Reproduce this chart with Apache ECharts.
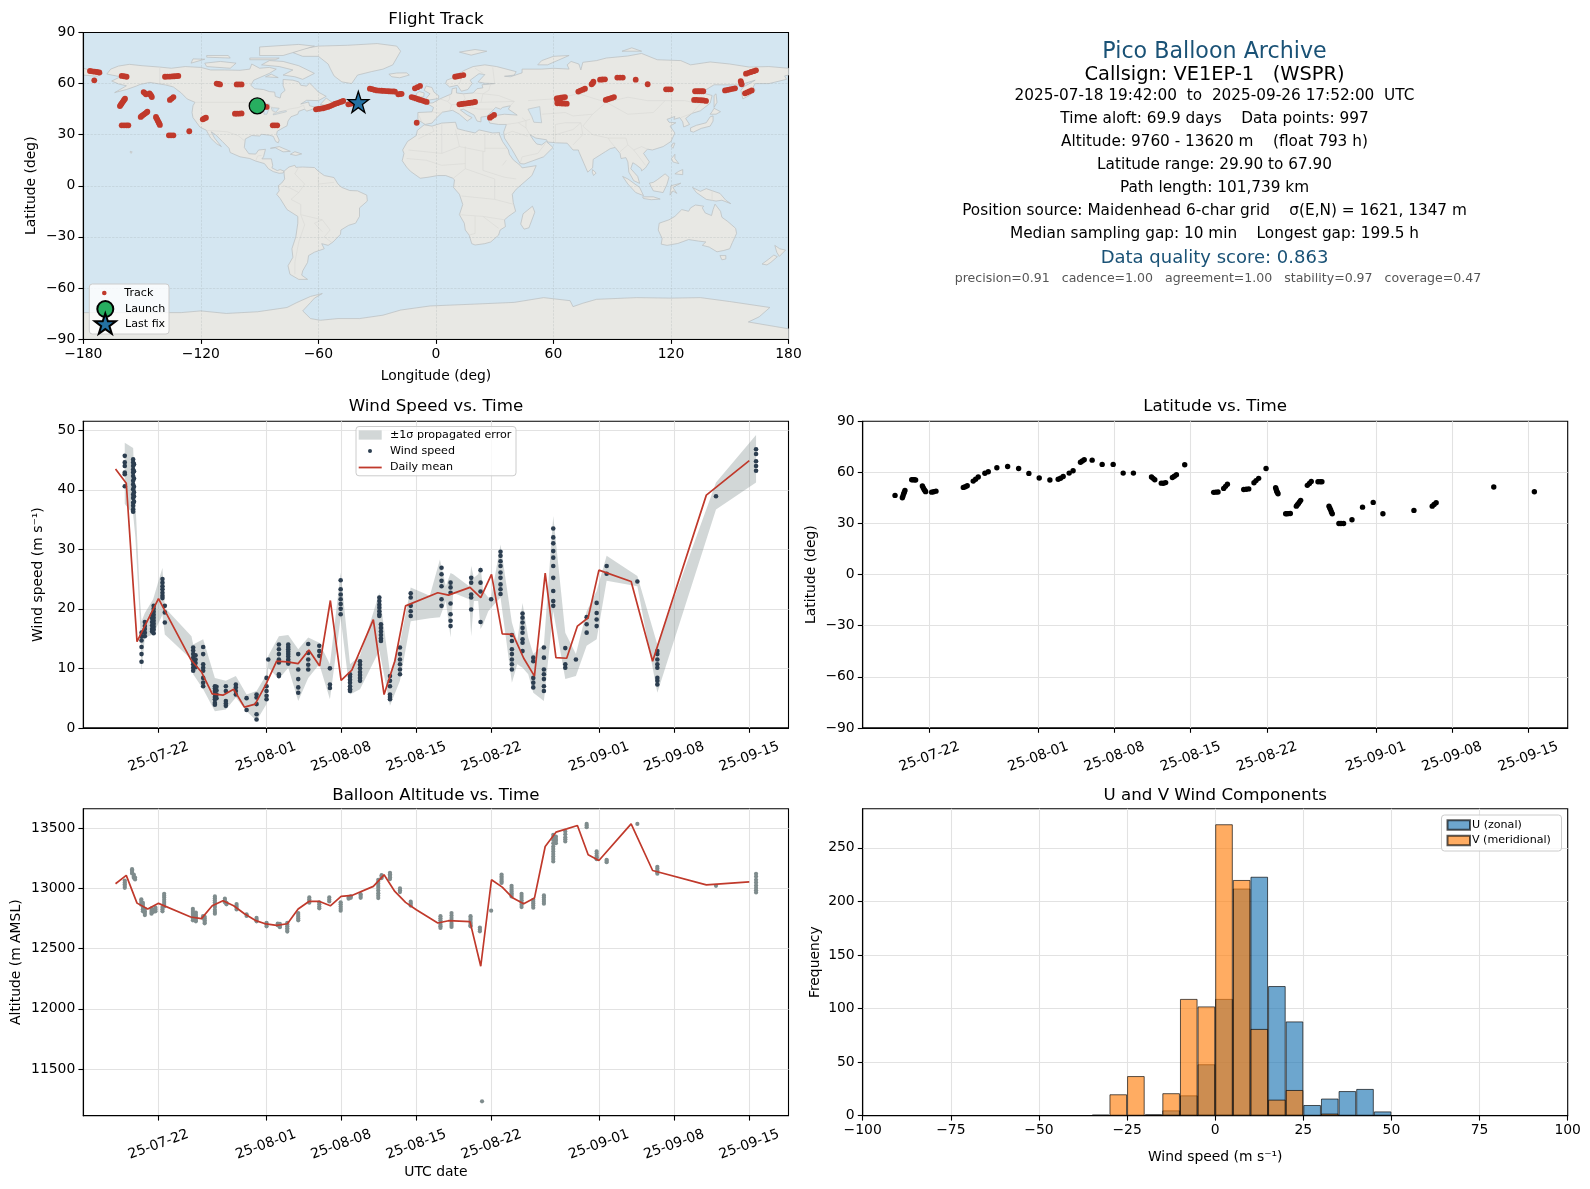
<!DOCTYPE html>
<html><head><meta charset="utf-8">
<style>html,body{margin:0;padding:0;background:#fff}#c{width:1590px;height:1189px}</style>
<script src="https://cdn.jsdelivr.net/npm/echarts@6/dist/echarts.min.js"></script>
</head><body><div id="c"></div>
<script>
// ---------- Dates: all time data is "day of July 2025" (d=32 is Aug 1) ----------
const tickDays = [22, 32, 39, 46, 53, 63, 70, 77];

// ---------- Wind speed: [day, [speeds]] ----------
const windColumns = [
 [18.86,[45.7,44.6,44,42.9,42.6,40.6]],
 [19.64,[45.1,44.6,44,43.4,42.9,42.3,41.5,40.9,40.1,39.2,38.6,37.8,37.3,36.7,36.3]],
 [19.72,[44.3,43.1,41.9,40.5,39.6,38.9,38]],
 [20.42,[14.7,13.6,12.4,11.1,15.4,16]],
 [20.73,[17.8,17.1,16.6,16,15.4]],
 [21.4,[19,18.4,17.8,17.2,16.6,16.2]],
 [21.55,[20.5,20,19.5,19,18.5,18,17.5,17,16.5,15.9]],
 [22.37,[25,24.4,23.8,23.3,22.7,22.2,21.8]],
 [22.59,[20.5,19.4,17.7]],
 [25.23,[13.5,13,12.4,11.8,11.2,10.7,10.1,9.6]],
 [25.45,[12.2,11.5,10.9,10.2]],
 [26.16,[13.6,12.4,10.7,10.1,9.6,8.4,7.6,7]],
 [27.25,[7,6.6,6.2,5.7,5.2,4.8,4.2,3.9]],
 [27.4,[6.9,6.3,5.6,5]],
 [28.27,[7,6.2,4.5,3.7,4.1]],
 [29.2,[7.3,6.8,5.6,6.2]],
 [30.2,[5,3]],
 [31.13,[5.6,5.1,4,2.3,1.4]],
 [32.06,[8.4,7,6.2,5.4,4.8]],
 [32.22,[11.5]],
 [33.21,[14,13.2,12.4,11.5,11,9,8.7]],
 [34.08,[14,13.6,13.2,12.8,12.4,12,11.5,11.1,10.8]],
 [35.01,[12.4,9.8,8.2,6.8,5.9]],
 [35.94,[14.1,12.6,11.5,10.6,9.8]],
 [36.97,[13.8,12.9,12.1]],
 [37.96,[10,7.3,6.7]],
 [38.96,[24.8,23.3,22.4,21.6,20.8,20,19.1]],
 [39.83,[9,8.6,8.1,7.6,7,6.5,6.2]],
 [40.76,[11.2,10.6,10,9.4,8.9,8.4,7.9]],
 [42.56,[21.9,21.3,20.7,20.2,19.6,19.1,18.8]],
 [42.71,[17.4,16.8,16.2,15.6,15,14.6]],
 [43.55,[8.7,7.9,7,5.6,4.8,5.2]],
 [44.48,[13.5,12.4,11.5,10.7,9.8,9]],
 [45.48,[22.6,21.9,20.5,19.6,18.8]],
 [48.35,[26.9,25.8,24.7,23.8,21.6,20.5]],
 [49.19,[24.4,23.6,22.7,20.9,19.1,18,17.1]],
 [51.11,[25.2,24.4,22.4,21.9,19.9]],
 [51.98,[26.5,24.4,22.9,17.8]],
 [52.97,[21.6]],
 [53.84,[29.6,28.9,28,27.2,26.1,25.2,24.1,23.3,22.5]],
 [54.9,[15.6,14.6,13.2,12.4,11.5,10.7,9.8]],
 [55.89,[19.2,18.5,17.7,16.8,16,14.9,14.3,12.9]],
 [56.89,[11.8,11.2,8.4,7.6,6.8]],
 [57.88,[13.5,11.8,9.8,9,8.2,7,6.2]],
 [58.75,[33.5,32,31,29.7,28.6,27.2,25.2,23,21.3,20.5]],
 [59.87,[13.4,10.7,10.1]],
 [60.86,[11.5]],
 [61.86,[18.6,17.4,16]],
 [62.79,[21,19.3,18.2,17.1]],
 [63.72,[27.2,25.9]],
 [66.58,[24.6]],
 [68.44,[12.9,12.4,11.5,10.7,10.1,8.4,7.9,7.3]],
 [73.9,[38.9]],
 [77.63,[46.8,46,44.8,44,43.2]]
];
const windBandDays = [18.86,19.64,19.85,20.3,20.42,20.73,21.5,22.37,22.59,25.07,25.23,26.16,27.25,28.27,29.2,30.2,31.13,32.06,32.22,33.21,34.08,35.01,35.94,36.97,37.96,38.96,39.83,40.76,42.56,43.55,44.48,45.48,47.26,48.2,48.75,49.19,49.43,50.92,51.11,51.36,51.76,51.98,52.23,52.7,52.97,53.84,54.9,55.4,55.89,56.42,56.89,57.88,58.75,59.87,60.86,61.86,62.79,63.72,66.58,68.44,73.9,77.63];
const windBandHigh = [47.9,47,38,21,17.9,19.3,21.6,26.9,20.2,15.4,14,14.9,8.4,7.9,8.7,5.6,6.2,9,12.1,15.4,15.6,13.2,15.2,14.3,10.7,26.1,10.7,12.1,22.7,9.3,14.3,23.6,22.2,28.3,23.8,26,25.8,23.8,27.2,25.2,25.8,27.2,23,21.9,21.9,30.8,17.7,14.6,21,15.2,12.4,14,35.6,16,12.4,19.6,23,28.9,25.5,14,41.2,49.2];
const windBandLow  = [37.6,35.9,32,17,9.6,15.2,15.7,19,15.7,11.5,9,6.5,2.8,3.1,5.1,2.8,1.2,4,10.1,8.2,10.1,4.5,8.4,10.7,4.8,18.5,5.6,6.5,13,3.7,7.9,17.9,18.4,18.6,21.3,15.2,22.7,21.6,15.4,21.3,21.3,16.6,17.4,19.6,20.2,21.9,7.6,10.7,10.1,9,5.9,4.5,19.6,8.2,8.7,13.8,14.9,24.7,23.8,5.9,36.7,41.2];
const meanDays = [18,19,20,22,25,26,27,28,29,30,31,32,33,34,35,36,37,38,39,40,42,43,44,45,48,49,51,52,53,54,55,56,57,58,59,60,61,62,63,66,68,73,77];
const windMean = [43.5,41.1,14.5,21.7,11.5,9.4,5.7,5.5,6.5,3.5,4,7.3,11.2,11.1,10.8,13.1,10.4,21.4,8,9.7,18.2,5.6,11.2,20.5,22.7,22.3,23.6,21.9,25.8,15.8,15.7,11.7,8.7,26,11.8,11.7,17.1,18.5,26.5,24.6,11.2,39.1,44.9];

// ---------- Latitude [day, deg] ----------
const latPoints = [[18.85,46.5],[19.52,45.1],[19.58,46.2],[19.64,47.4],[19.7,48.4],[19.76,49.4],[20.38,55.7],[20.5,55.7],[20.62,55.7],[20.74,55.5],[21.36,52],[21.44,51],[21.52,50],[21.6,49.2],[21.66,48.7],[22.21,48.4],[22.4,48.6],[22.61,49],[25.12,51.2],[25.3,51.6],[25.48,52.2],[26.03,54.9],[26.25,56],[26.49,57.3],[27.1,59.5],[27.41,60.4],[28.2,62.7],[29.19,63.5],[30.2,62.3],[31.14,59.4],[32.09,56.7],[33.07,55.5],[33.83,56],[34.05,56.6],[34.29,57.6],[34.84,59.6],[35.2,61],[35.88,66],[36.05,66.7],[36.22,67.5],[36.95,67.2],[37.87,64.7],[38.88,64.7],[39.8,59.6],[40.74,59.6],[42.4,57.3],[42.55,56.5],[42.7,55.7],[43.3,53.7],[43.5,53.6],[43.7,54],[44.32,57],[44.5,57.7],[44.69,58.6],[45.45,64.5],[48.11,48.3],[48.3,48.4],[48.51,48.5],[49.03,50.6],[49.2,51.8],[49.37,53],[50.87,50],[51.1,50.1],[51.33,50.3],[51.81,53.9],[52,55.2],[52.24,56.5],[52.92,62.3],[53.8,51],[53.85,50],[53.9,49],[53.96,48.2],[54.02,47.5],[54.72,35.7],[54.85,35.7],[55,35.8],[55.15,35.9],[55.7,40.2],[55.8,41],[55.9,41.8],[56,42.7],[56.1,43.6],[56.71,52.4],[56.9,53.5],[57.07,54.7],[57.69,54.5],[57.9,54.5],[58.05,54.5],[58.7,40.2],[58.78,39],[58.85,38],[58.92,36.8],[59,35.7],[59.61,30],[59.8,30],[60.04,30],[60.81,32.2],[61.78,39.6],[62.76,42.4],[63.65,35.7],[66.5,37.7],[68.18,40.2],[68.35,41.2],[68.54,42.2],[73.83,51.4],[77.56,48.6]];

// ---------- Altitude: [day, [metres]] ----------
const altColumns = [
 [18.86,[13065,13050,13035,13020,13005]],[19.54,[13160,13148,13136,13124]],[19.7,[13115,13100,13088]],[19.82,[13090,13075]],
 [20.4,[12910,12895,12880,12865]],[20.55,[12880,12862,12845,12828,12810]],[20.73,[12830,12810,12795,12779]],[21.35,[12835,12820,12805,12790]],[21.5,[12825,12805]],[21.72,[12840,12825,12810]],
 [22.37,[12845,12828,12810]],[22.53,[12956,12940,12925,12905,12888,12870,12851]],
 [25.2,[12830,12812,12796,12780,12763,12748,12735]],[25.48,[12800,12782,12768,12752,12738,12727]],
 [26.15,[12770,12755]],[26.3,[12765,12750,12735,12722,12710]],
 [27.25,[12790,12805,12823,12845,12865,12885,12901,12918,12934]],[28.18,[12915,12900,12885]],[28.33,[12880,12868]],
 [29.27,[12870,12855,12840,12825]],[30.2,[12785,12772]],[31.13,[12755,12740,12727]],[32.06,[12715,12700,12685]],[33.1,[12708,12695]],[33.3,[12705,12690,12678]],
 [33.99,[12715,12700,12685,12670,12655,12642]],[35.01,[12795,12780,12765,12750,12735]],[36.04,[12925,12910,12895,12882]],[36.97,[12885,12868,12850,12835]],
 [37.9,[12925,12908,12892]],[38.96,[12885,12868,12850,12832,12815]],[39.7,[12925,12915]],[39.9,[12935,12922]],[40.82,[12952,12938,12922]],
 [42.46,[12920,12940,12961,12982,13003,13020,13039,13055,13072]],[42.77,[13110,13098,13086]],[43.55,[13130,13118,13105,13092,13078]],[44.48,[13000,12985,12970]],[45.48,[12890,12875,12858]],
 [48.25,[12770,12752,12735,12717,12699,12685,12672]],[49.28,[12795,12775,12754,12735,12713,12697,12680]],[51.05,[12770,12755,12740,12722,12707,12695,12685]],[51.92,[12675,12660,12644]],
 [52.12,[11232]],[52.97,[12815]],[53.94,[13115,13100,13086,13072,13058,13046]],[54.87,[13022,13005,12989,12975,12961,12947,12934]],[55.8,[12956,12938,12920,12902,12884,12865,12845]],
 [56.89,[12906,12890,12875,12858,12840]],[57.88,[12942,12925,12906,12890,12873]],[58.75,[13445,13425,13403,13375,13348,13328,13307,13285,13265,13245,13224]],[59,[13430,13410,13395,13376]],
 [59.87,[13472,13450,13425,13408,13390]],[61.86,[13536,13522,13508]],[62.79,[13307,13290,13271,13258,13243]],[63.72,[13238,13228,13218]],[66.58,[13536]],
 [68.44,[13180,13165,13149,13135,13122]],[73.9,[13022]],[77.63,[13122,13100,13072,13050,13025,13003,12985,12967]]
];
const altMeanDays = [18,19,20,21,22,25,26,27,28,29,30,31,32,33,34,35,36,37,38,39,40,42,43,44,45,46,48,49,51,52,53,54,55,56,57,58,59,60,61,62,63,66,68,73,77];
const altMean = [13039,13108,12878,12829,12876,12763,12749,12856,12898,12856,12790,12735,12705,12694,12707,12829,12892,12892,12856,12934,12942,13017,13113,12975,12884,12823,12713,12732,12724,12354,13072,13011,12920,12873,12920,13348,13467,13494,13522,13279,13232,13536,13149,13030,13055];

// ---------- Histogram (5 m/s bins, left edge) ----------
const binLeft = [-35,-30,-25,-20,-15,-10,-5,0,5,10,15,20,25,30,35,40,45];
const uCounts = [1,0,0,1,5,19,48,109,212,223,121,88,10,16,23,25,4];
const vCounts = [0,20,37,1,21,109,102,272,220,81,15,24,0,2,0,0,0];

// ---------- Track [lon, lat] ----------
const trackPoints = [[-176.6,67.4],[-175.4,67.2],[-174.2,67],[-173,66.8],[-171.8,66.5],[-174.4,61.9],[-160.4,64.5],[-159.2,64.3],[-157.9,64],[-138.3,64],[-137.1,64.1],[-135.9,64.1],[-134.7,64.2],[-133.5,64.3],[-132.3,64.4],[-131.5,64.5],[-149.2,55],[-148.6,54.4],[-148,53.7],[-146.2,54.2],[-145.7,53.5],[-145.3,52.8],[-145,52.1],[-135.8,50.4],[-134.9,51.2],[-134,52.1],[-161.3,46.8],[-160.9,47.5],[-160.5,48.2],[-160,49],[-159.6,49.7],[-159.2,50.4],[-158.7,51.1],[-150.7,40.4],[-150,41.1],[-149.2,41.8],[-148.5,42.4],[-147.8,43],[-147.3,43.5],[-142.9,40.4],[-142.6,39.6],[-142.2,38.8],[-141.9,38],[-141.5,37.2],[-141.2,36.4],[-140.9,35.7],[-160.4,35.5],[-159.2,35.5],[-158,35.5],[-157,35.5],[-136.3,29.6],[-135.2,29.6],[-134,29.6],[-125.9,32],[-119,39],[-118.2,39.5],[-117.4,40],[-111.9,60],[-111,59.8],[-110.2,59.5],[-101.7,59.5],[-100.5,59.5],[-99.2,59.5],[-102.6,42.3],[-101.5,42.3],[-100.3,42.4],[-99.2,42.5],[-86.4,46.3],[-83.3,35.5],[-82.2,35.5],[-81,35.5],
 [-61.2,44.9],[-60,45.1],[-58.8,45.3],[-57.6,45.5],[-56.4,45.9],[-55.2,46.3],[-54,46.8],[-52.8,47.4],[-51.6,48],[-50.4,48.5],[-49.2,49],[-48.2,49.4],[-47.3,49.8],[-44.7,47.8],[-43.5,48.1],[-42.2,48.4],[-33.7,57],[-32.5,56.7],[-31.3,56.3],[-30.1,56],[-28.9,55.9],[-27.7,55.8],[-26.5,55.7],[-25.3,55.6],[-24.1,55.5],[-22.9,55.4],[-21.7,55.4],[-20.9,55.3],[-19.2,53.7],[-18.3,53.9],[-17.5,54],[-10.7,57.2],[-9.4,57.9],[-8.1,58.6],[-12.4,52.1],[-11.3,51.7],[-10.2,51.3],[-9,50.8],[-7.9,50.4],[-6.8,50],[-5.7,49.6],[-4.7,49.2],[-9.8,37],
 [9.8,64],[11,64.3],[12.4,64.6],[14,65],[12,47.8],[13.2,48],[14.4,48.2],[15.7,48.4],[16.9,48.6],[18.1,48.8],[19.2,49],[20,49.2],[27.6,40],[28.6,40.8],[29.7,41.6],[61.7,51.3],[62.7,51.5],[63.8,51.7],[64.8,51.9],[65.9,52.1],[62,48.4],[63.2,48.4],[64.4,48.3],[65.6,48.3],[66.8,48.2],[62,49.9],[63.2,50.2],[72.7,55.3],[73.8,55.9],[75,56.4],[76.1,57],[79.5,59.6],[80.1,60.3],[80.4,61.1],[83.8,62.3],[85,62.4],[86.3,62.5],[92.6,63.5],[94,63.5],[95.4,63.5],[102,62.3],[108.1,59.6],[117.5,56.6],[118.7,56.6],[119.9,56.6],[86.7,50.4],[87.7,50.8],[88.8,51.2],[89.8,51.6],[90.9,52.1],[132.3,55.5],[133.4,55.5],[134.4,55.5],[135.5,55.5],[136.5,55.5],[131.8,50.4],[133,50.4],[134.2,50.3],[135.4,50.2],[136.6,50.1],[137.9,49.8],[147.6,56],[148.9,56.3],[150.2,56.6],[151.5,56.9],[152.7,57.2],[155.6,61.5],[155.8,60.6],[156.1,59.6],[158.3,65.8],[159.6,66.3],[160.9,66.8],[162.2,67.3],[163.4,67.8],[157.8,54.3],[158.9,54.8],[160,55.4],[161.2,56]];
const launchPoint = [-91.2,46.9];
const lastFixPoint = [-39.6,49.2];

// ---------- Land outlines [lon, lat] ----------
const northAmerica = [[-168,65.6],[-166,68.5],[-162,70.3],[-156.5,71.3],[-150,70.5],[-141,69.7],[-135,69],[-128,70],[-120,69.5],[-115,68],[-108,68],[-100,67.8],[-95,68.5],[-94,71.5],[-90,69],[-85,69.5],[-81.5,68.5],[-85,66],[-87,65],[-93,62],[-94.5,59],[-92.5,57],[-88,56.5],[-85,55.3],[-82.3,55],[-82,52.5],[-79.5,51.5],[-79,54],[-77,56],[-78,58.7],[-78,62.4],[-73,62],[-70,61],[-69,59],[-66,58.5],[-64.5,60.3],[-62,57.5],[-60,55],[-56,52.5],[-60,50],[-66,50.2],[-69,48],[-65,49.2],[-64.5,47],[-61,46],[-64,44.5],[-66,43.8],[-67,45],[-70,43.7],[-70.5,42],[-74,40.5],[-75.5,38],[-76,35.2],[-78,34],[-81,32],[-81.3,30],[-80,26.8],[-80.5,25.2],[-81.8,26],[-83,29],[-85,29.7],[-89,30.2],[-90,29.2],[-94,29.5],[-97.3,27.5],[-97.8,22.5],[-95.5,18.8],[-92,18.6],[-90.5,21],[-87,21.4],[-88,17],[-88.8,15.8],[-84,15.8],[-83.3,12],[-83.7,10.5],[-81,8.9],[-79.5,9.5],[-77.5,8.6],[-78,7.5],[-80,7.3],[-83,8.3],[-85.5,10],[-87.5,13],[-92,14.5],[-95,16],[-100,17],[-105,19.5],[-105.6,22],[-109,26],[-112.5,30],[-114.7,31.7],[-113,28],[-109.5,23],[-112,24.7],[-115,28],[-117.2,32.6],[-120.5,34.5],[-124,40],[-124.5,43],[-124,47],[-123,49],[-127,51],[-130,54.5],[-134,58],[-138,59.2],[-146,60.7],[-151,59.5],[-153,58.5],[-158,56.5],[-164,54.7],[-158,58.7],[-162,59.8],[-165.5,61.5],[-161,64]];
const greenland = [[-73,78.2],[-68,80.5],[-60,82],[-45,82.5],[-30,83.5],[-20,82],[-18,79],[-20,75],[-22,71],[-27,68.5],[-33,67],[-40,65],[-43,60],[-48,61],[-52,64.5],[-54,69],[-55,71.5],[-60,76],[-68,76]];
const baffin = [[-62,66],[-68,62.5],[-72,64],[-78,65],[-73,68],[-80,70],[-89,71],[-85,73.5],[-78,73],[-70,70.5]];
const victoria = [[-117,70],[-105,69],[-102,72],[-110,73],[-118,72]];
const banks = [[-125,72],[-118,74.3],[-124,74.5]];
const ellesmere = [[-90,76.5],[-78,76.5],[-62,82],[-70,83],[-90,81.5]];
const devon = [[-95,75],[-80,75],[-82,74],[-95,74]];
const melville = [[-117,75.5],[-105,75],[-106,76.5],[-117,76.5]];
const southampton = [[-87,64],[-80.5,63.5],[-84,65.5]];
const newfoundland = [[-59,47.7],[-53,46.7],[-53,49],[-56,51.5]];
const cuba = [[-84.5,22],[-80,23],[-74.3,20.2],[-78,19.9],[-82,22.3]];
const hispaniola = [[-74.3,18.5],[-72,20],[-68.5,18.7],[-71.5,17.8]];
const hawaii = [[-156,20.2],[-155,19.8],[-155.7,19],[-156,19.6]];
const southAmerica = [[-77.5,8.6],[-75,11],[-72,12],[-71.5,10.8],[-68,11],[-62,10.7],[-60,8.5],[-57,6],[-52,4.8],[-50,1],[-48,-1],[-44,-2.8],[-40,-3],[-35.3,-5.5],[-35,-9],[-39,-13],[-39,-18],[-41,-22],[-44.5,-23.2],[-48.5,-26],[-48.7,-28.5],[-52.5,-33],[-55,-35],[-58.3,-34],[-57,-37],[-62,-39],[-65,-41],[-65.5,-45],[-68,-50],[-68.5,-52.5],[-65.5,-55],[-70,-55],[-74.5,-52],[-75.5,-47],[-73,-42],[-73.5,-37],[-71.5,-30],[-70.5,-22],[-70.5,-18],[-76,-14],[-79.5,-7.5],[-81.3,-5],[-80,-3],[-80.5,0],[-78.8,1.5],[-77.2,4],[-77.5,7]];
const africa = [[-6,35.8],[-2,35],[3,36.8],[10,37.3],[11,33.5],[15,32.3],[20,31],[22,32.8],[29,31],[32.5,31.2],[32.5,30],[34,26],[37,21],[37.5,18.5],[39.5,15.2],[43,12],[44,10.5],[51.2,11.8],[49,6],[45,2],[41,-2],[39,-5],[39.5,-10],[40.7,-15],[37,-18],[35,-20],[35.5,-24],[32.8,-26],[32,-29],[28,-33],[25,-34],[20,-34.8],[18.3,-34],[17,-29],[15,-26],[14.5,-22],[12,-17],[13.7,-11],[12,-5],[9,-1],[9.5,3.5],[8.5,4.5],[5,6],[1,6],[-4,5],[-8,4.4],[-13,8.5],[-15,11],[-17.2,14.7],[-16.3,19],[-17,21],[-14.5,26],[-10,29.5],[-9.5,32.5]];
const eurasia = [[-9.2,38.8],[-9.2,43],[-2,43.4],[-1.2,46],[-4.7,48.4],[-1.5,48.7],[2,51],[4,52],[8,54],[8.3,57],[10.5,57.5],[10.5,54.5],[14,54],[19,54.5],[21,57],[24,57.5],[23.5,59.3],[30,60],[25,60.2],[21.5,61],[25,65.3],[22,65.8],[17.5,62],[18.5,60],[16.3,56.5],[13,55.5],[11,59],[7,58],[5,60],[5.5,62],[10,64],[14,67.5],[19,70],[25,71],[31,70],[41,67],[40,65],[35,64.3],[38,64],[44,66.3],[44,68.5],[54,68.5],[60,69],[68,68.5],[67,71],[69,73],[73,71.5],[74,68],[75,72.5],[82,73.5],[87,75],[98,76.2],[105,77.7],[113,74],[125,73.5],[130,71],[140,72.7],[150,71.5],[160,69.7],[170,70],[180,69],[180,65],[178,64.5],[179,62.5],[170,60],[163,60],[162,58],[163,56],[160,53],[156.7,51],[155.7,56],[157,58],[163,62],[155,59.2],[142,59.3],[135.5,54.7],[141,53],[140,48.5],[135,44],[130.7,42.5],[127.5,39.5],[129.5,36],[126.5,34.5],[126,37.5],[124.5,40],[121.5,39],[122,40.7],[118,39],[119,37.3],[122.5,37],[119.5,35],[122,31],[120,26],[116,23],[110.5,21],[108,21.5],[106,19],[109,14],[107,10.5],[105,8.7],[104.8,10],[102,12.5],[100.5,13.5],[99.5,10],[103,5.5],[104,1.4],[101,3],[98.5,8],[98,14],[97,16.5],[94.5,16],[94,19],[91.5,22.5],[89,21.8],[86.5,20],[80.3,15.5],[80,10.5],[77.5,8],[73,20],[72.7,21],[70,21],[67,25],[61.5,25.2],[57,25.7],[56.5,27],[51,28],[48,30],[50,26.5],[51.5,24.5],[54,24],[56.3,26],[59.8,22.5],[55,17],[45,12.8],[43,13],[39,21],[35,28],[34.6,31.5],[36,36],[32,36],[27.5,36.8],[26.5,39.5],[29,41],[35,42],[41.5,41.5],[37,45],[38,47],[34,46],[33,45],[30.5,46],[28,43],[26,40.8],[23,40.3],[23,37.5],[21,38],[19.5,41.5],[14,45],[12.5,44.5],[16,41.5],[18.5,40],[16,38],[12,42],[8.5,44.3],[3.3,43.2],[0,39.5],[-2,36.8],[-5.5,36]];
const chukotkaWest = [[-180,65],[-180,69],[-175,67.5],[-170,66],[-173,64.3]];
const britain = [[-5.5,50],[1.3,51.2],[1.5,52.8],[-1,55],[-2,57.7],[-5,58.6],[-6,56],[-3,54],[-4.5,52]];
const ireland = [[-10,52],[-6.2,52.2],[-6,54.5],[-8.5,55.3],[-10,54]];
const iceland = [[-24,65.5],[-20,66.2],[-15,66.3],[-13.6,65],[-18.5,63.4],[-22.5,64]];
const svalbard = [[12,78.5],[20,80],[26,79],[18,76.7]];
const novayaZemlya = [[52,71],[57,71],[68,76.5],[60,76],[54,73.5]];
const severnaya = [[95,79],[105,79],[100,81]];
const sakhalin = [[142,46],[143.5,49],[143,54],[142,53],[142,48]];
const honshu = [[130,32],[131.5,31.5],[135.5,33.7],[140,35],[141.5,38],[141.5,41],[140,40.5],[138,37],[133,35.5],[130,34]];
const hokkaido = [[140,42],[143,42],[145.3,43.5],[142,45.5],[141,43.5]];
const taiwan = [[120.2,23],[121,22],[122,25],[121,25]];
const luzon = [[120.3,16],[122,18.5],[122,16],[124,13],[121,14]];
const mindanao = [[122,7],[126,6.5],[126,9.5],[124,8.5]];
const borneo = [[109,1.5],[111,-3],[116,-4],[118,1],[119,5],[117,7],[113,3.5],[111,2]];
const sumatra = [[95.3,5.5],[98,4],[104,-1],[106,-5.8],[102,-4],[98,1]];
const java = [[105.5,-6.5],[111,-6.5],[114.5,-7.8],[110,-8.2],[106,-7.5]];
const sulawesi = [[119.5,-5.5],[120,0],[125,1.5],[121,-1],[123,-4.5],[121,-3]];
const newGuinea = [[131,-1],[135,-3.3],[138,-1.7],[145,-4.5],[148,-8.5],[150.5,-10.5],[146,-8.5],[143,-9],[138,-8],[133,-4]];
const sriLanka = [[80,9.5],[81.8,7.5],[80.5,6],[79.8,8]];
const australia = [[114,-22],[113.5,-26],[115.5,-31],[115,-34.3],[118,-35],[123.5,-33.9],[129,-31.6],[134,-32.5],[137.8,-33],[136,-35],[139.5,-36],[143.5,-38.8],[147,-38],[150,-37],[151.3,-33.5],[153.5,-28],[153,-25],[149,-21],[146,-18.5],[145.3,-15],[142.5,-10.8],[141.5,-14],[140.7,-17.5],[137.5,-16],[136,-13],[136.7,-12],[132.5,-11.3],[130,-13],[129,-15],[125.5,-14],[122,-18],[119,-20]];
const tasmania = [[145,-41],[148,-41],[148,-43],[146,-43.5]];
const nzNorth = [[173,-35],[175.5,-37],[178.5,-37.8],[175.3,-41.5],[174,-39]];
const nzSouth = [[172.5,-40.7],[174.3,-41.7],[171,-45],[169,-46.5],[166.5,-46],[170,-43]];
const madagascar = [[49.3,-12],[50.5,-15.5],[47.5,-24.7],[45,-25.5],[43.3,-22.5],[44.5,-16.5]];
const antarctica = [[-180,-74.5],[-130,-74.5],[-120,-73.5],[-107,-75],[-91,-74],[-76,-71.5],[-71,-68.6],[-64,-65],[-58,-63.3],[-62,-66],[-64,-68.6],[-68,-73.5],[-64,-78],[-59,-79],[-50,-78],[-39,-78],[-27,-76],[-18,-73],[-3,-70.6],[20,-69.5],[40,-68.5],[55,-65.7],[68.5,-67.5],[70,-71],[75,-69],[82,-66.7],[102.5,-65.7],[120,-66],[135,-65.7],[150,-68],[170.5,-71.5],[165,-77],[159.5,-80],[180,-84],[180,-90],[-180,-90]];
const landShapes = [northAmerica,greenland,baffin,victoria,banks,ellesmere,devon,melville,southampton,newfoundland,cuba,hispaniola,hawaii,southAmerica,africa,eurasia,chukotkaWest,britain,ireland,iceland,svalbard,novayaZemlya,severnaya,sakhalin,honshu,hokkaido,taiwan,luzon,mindanao,borneo,sumatra,java,sulawesi,newGuinea,sriLanka,australia,tasmania,nzNorth,nzSouth,madagascar,antarctica];
const caspian = [[47,45],[53,46.5],[53.5,41],[54,37],[50,37.3],[49,40.5]];
const superior = [[-92,46.7],[-85,46.7],[-85,48],[-89,48.3]];
const michigan = [[-87.8,42],[-86.3,42],[-85,45.8],[-87.5,45]];
const huron = [[-84,45.9],[-80,45.5],[-81.7,43.2],[-83.5,44]];
const erieOntario = [[-83,41.6],[-79,42.7],[-76.3,43.5],[-76.5,44.2],[-79.5,43.5],[-83,42.2]];
const waterShapes = [caspian,superior,michigan,huron,erieOntario];
const borders = [
 [[-141,69.7],[-141,60.3],[-135,59]],[[-123,49],[-95,49],[-89,48],[-83,46],[-82.5,42.5],[-79,43],[-75,45],[-70,46],[-67.5,47.3],[-67,45]],
 [[-117,32.5],[-106.5,31.7],[-101,29.5],[-97.3,26]],[[-92,14.7],[-91,17.5],[-89,17.8]],
 [[-70,11],[-72,7],[-67,1],[-70,-4],[-74,-8],[-69,-11],[-69,-17],[-58,-20],[-54,-26],[-57,-30],[-53,-33.5]],[[-69,-17],[-67,-23],[-70,-33],[-72,-45],[-72,-52]],[[-60,5],[-60,1],[-52,2]],[[-78,0],[-75,-1],[-70,-4]],[[-58,-20],[-62,-22],[-58,-27]],
 [[-2,43.4],[3,42.5]],[[-9,42],[-7,37]],[[2,51],[6,49.5],[8,47.5],[7,44]],[[7,54],[7,51],[6,49.5]],[[14,54],[15,51],[12,48],[17,48],[23,49],[24,54],[19,54.5]],[[12,48],[8,47.5]],[[14,46.5],[22,45],[29,45]],[[23,49],[40,49.5],[38,47]],[[24,54],[32,53],[40,49.5]],[[28,60],[27,56],[24,54]],[[30,60],[29,69.5]],[[14,66],[12,60]],[[20,69],[24,66]],
 [[-2,35],[-1,32],[-9,27.5]],[[-14,21],[3,19],[12,23],[25,20],[25,31]],[[25,22],[36,22]],[[3,19],[3,36]],[[12,23],[10,33]],[[15,23],[15,10],[9,4.5]],[[-15,16],[-5,15],[3,12],[15,13]],[[24,20],[24,9],[35,5],[41,4]],[[34,12],[36,15]],[[15,10],[30,4],[30,-8],[13,-6]],[[30,-8],[40,-11]],[[12,-17],[24,-18],[35,-20]],[[20,-18],[20,-28],[17,-29]],[[24,-18],[32,-25]],
 [[36,36],[42,37],[48,39]],[[42,37],[46,34],[48,30]],[[35,30],[39,32],[47,29]],[[52,19],[44,17],[43,13]],[[56,25],[52,19]],[[46,34],[46,38],[44,40]],[[61,25],[61,36],[66,37],[74,37]],[[61,30],[70,33],[74,37],[75,30],[70,24]],[[54,42],[66,43],[70,41],[80,42],[87,49]],[[47,50],[60,51],[73,54],[87,49]],[[87,49],[98,52],[108,50],[117,50],[127,50],[135,48],[131,43]],[[87,49],[98,42],[111,43],[117,50]],[[80,42],[75,35],[80,30],[88,28],[97,28],[98,24],[101,21]],[[92,22],[89,26],[88,28]],[[98,24],[94,20]],[[101,21],[105,23],[108,21.5]],[[101,21],[105,15],[107,12]],[[125,40],[130.7,42.5]],[[141,-2.6],[141,-9]]
];

// ---------- Text ----------
const titles = ['Flight Track','Wind Speed vs. Time','Latitude vs. Time','Balloon Altitude vs. Time','U and V Wind Components'];
const titleRise = [22.5,24,24,22.5,22.5];
const infoLines = [
 ['Pico Balloon Archive',22.2,'#1a5276',52.5,1214.5],
 ['Callsign: VE1EP-1   (WSPR)',19.4,'#000',75,1214.5],
 ['2025-07-18 19:42:00  to  2025-09-26 17:52:00  UTC',15.3,'#000',96.5,1214.5],
 ['Time aloft: 69.9 days    Data points: 997',15.3,'#000',119.5,1214.5],
 ['Altitude: 9760 - 13620 m    (float 793 h)',15.3,'#000',142.2,1214.5],
 ['Latitude range: 29.90 to 67.90',15.3,'#000',165.5,1214.5],
 ['Path length: 101,739 km',15.3,'#000',188.5,1214.5],
 ['Position source: Maidenhead 6-char grid    σ(E,N) = 1621, 1347 m',15.3,'#000',211.5,1214.5],
 ['Median sampling gap: 10 min    Longest gap: 199.5 h',15.3,'#000',234.5,1214.5],
 ['Data quality score: 0.863',18,'#1a5276',258.7,1214.5],
 ['precision=0.91   cadence=1.00   agreement=1.00   stability=0.97   coverage=0.47',12.55,'#555',279,1218]
];

// ---------- Build ----------
const FONT = '"DejaVu Sans"';
const dayMs = d => Date.UTC(2025,5,30) + d*864e5;
const pad2 = n => String(n).padStart(2,'0');
const fmtDate = v => { const t=new Date(v); return pad2(t.getUTCFullYear()%100)+'-'+pad2(t.getUTCMonth()+1)+'-'+pad2(t.getUTCDate()); };
const minusFmt = v => String(v).replace('-','\u2212');
const expand = cols => cols.flatMap(c => c[1].map(v => [dayMs(c[0]), v]));
const zipDays = (days, vals) => days.map((d,i)=>[dayMs(d), vals[i]]);
const STAR = 'path://M50 0L61.8 35.5L97.6 35.5L68.6 57.4L79.4 92L50 70.7L20.6 92L31.4 57.4L2.4 35.5L38.2 35.5Z';

const P = {
  map:{left:83.3,top:32.5,width:705.2,height:306.5},
  wind:{left:83.3,top:421.3,width:705.2,height:306.6},
  lat:{left:862.7,top:421.3,width:705,height:306.6},
  alt:{left:83.3,top:808.7,width:705.2,height:307},
  hist:{left:862.7,top:808.7,width:705,height:307}
};
const frame = {show:true,borderColor:'#000',borderWidth:1.1,z:0};
const grids = [P.map,P.wind,P.lat,P.alt,P.hist].map((g,i)=>({...g,...frame,backgroundColor:i===0?'#d4e6f1':'transparent',containLabel:false}));
const labelBase = {fontFamily:FONT,fontSize:13.9,color:'#000',margin:8,hideOverlap:false,showMinLabel:true,showMaxLabel:true};
const tick = {show:true,length:4.9,lineStyle:{color:'#000',width:1.1}};
const line = {show:true,onZero:false,lineStyle:{color:'#000',width:1.1}};
const gridLine = {show:true,lineStyle:{color:'#e2e2e2',width:1.1}};
const nameStyle = {fontFamily:FONT,fontSize:13.9,color:'#000'};

function timeAxis(gridIndex,minD,maxD,name){
  const ticks = tickDays.map(dayMs);
  return {type:'value',gridIndex,min:dayMs(minD),max:dayMs(maxD),name,nameLocation:'middle',nameGap:50,nameTextStyle:nameStyle,
    axisLine:line,splitLine:gridLine,
    axisTick:{...tick,customValues:ticks},
    axisLabel:{...labelBase,customValues:ticks,rotate:20,align:'center',verticalAlign:'middle',margin:29,formatter:v=>fmtDate(v)}};
}
function valAxis(gridIndex,min,max,ticks,name,nameGap,sp){
  const atMin = ticks[0]===min, atMax = ticks[ticks.length-1]===max;
  return {type:'value',gridIndex,min,max,name,nameLocation:'middle',nameGap,nameTextStyle:nameStyle,
    axisLine:line,splitLine:{...(sp||gridLine),showMinLine:!atMin,showMaxLine:!atMax},
    axisTick:{...tick,customValues:ticks},
    axisLabel:{...labelBase,customValues:ticks,formatter:minusFmt}};
}
const mapGridLine = {show:true,lineStyle:{color:'#9aa0a3',width:0.6,type:'dashed',opacity:0.38}};
const lat90 = [-90,-60,-30,0,30,60,90];
const xAxis = [
  {...valAxis(0,-180,180,[-180,-120,-60,0,60,120,180],'Longitude (deg)',30,mapGridLine),z:3},
  timeAxis(1,15,80.65,''),
  timeAxis(2,15.88,80.62,''),
  timeAxis(3,15,80.65,'UTC date'),
  valAxis(4,-100,100,[-100,-75,-50,-25,0,25,50,75,100],'Wind speed (m s\u207B\u00B9)',35)
];
const yAxis = [
  {...valAxis(0,-90,90,lat90,'Latitude (deg)',44.8,mapGridLine),z:3},
  valAxis(1,0,51.5,[0,10,20,30,40,50],'Wind speed (m s\u207B\u00B9)',37.7),
  valAxis(2,-90,90,lat90,'Latitude (deg)',44.7),
  valAxis(3,11113,13662,[11500,12000,12500,13000,13500],'Altitude (m AMSL)',59.8),
  valAxis(4,0,286.5,[0,50,100,150,200,250],'Frequency',40.7)
];

function polySeries(name,shapes,xi,color,stroke,sw,z){
  return {type:'custom',name,xAxisIndex:xi,yAxisIndex:xi,coordinateSystem:'cartesian2d',z,silent:true,clip:true,
    itemStyle:{color},data:shapes.map((_,i)=>i),
    encode:{x:-1,y:-1},
    renderItem:(p,api)=>({type:'polygon',shape:{points:shapes[p.dataIndex].map(c=>api.coord(c))},
      style:{fill:color,stroke:stroke||'none',lineWidth:sw||0}})};
}
function bordersSeries(){
  return {type:'custom',name:'borders',xAxisIndex:0,yAxisIndex:0,coordinateSystem:'cartesian2d',z:1,silent:true,
    data:borders.map((_,i)=>i),encode:{x:-1,y:-1},
    renderItem:(p,api)=>({type:'polyline',shape:{points:borders[p.dataIndex].map(c=>api.coord(c))},
      style:{fill:'none',stroke:'#d9d9d5',lineWidth:0.6}})};
}
const bandPoly = [...windBandDays.map((d,i)=>[dayMs(d),windBandHigh[i]]), ...windBandDays.map((d,i)=>[dayMs(d),windBandLow[i]]).reverse()];
const histPts = counts => binLeft.map((b,i)=>[b+2.5,counts[i]]).filter(p=>p[1]>0);

const series = [
  polySeries('land',landShapes,0,'#e8e8e4','#b9bdbf',0.7,1),
  polySeries('water',waterShapes,0,'#d4e6f1','#b9bdbf',0.6,1),
  bordersSeries(),
  {type:'scatter',name:'Track',xAxisIndex:0,yAxisIndex:0,data:trackPoints,symbolSize:5.8,z:5,itemStyle:{color:'#c0392b',opacity:1},silent:true},
  {type:'scatter',name:'Launch',xAxisIndex:0,yAxisIndex:0,data:[launchPoint],symbol:'circle',symbolSize:16,z:6,itemStyle:{color:'#27ae60',borderColor:'#000',borderWidth:1.3,opacity:1},silent:true},
  {type:'scatter',name:'Last fix',xAxisIndex:0,yAxisIndex:0,data:[lastFixPoint],symbol:STAR,symbolSize:21,z:6,itemStyle:{color:'#2471a3',borderColor:'#000',borderWidth:1.3,opacity:1},silent:true},

  polySeries('\u00B11\u03C3 propagated error',[bandPoly],1,'rgba(127,140,141,0.35)',null,0,2),
  {type:'scatter',name:'Wind speed',xAxisIndex:1,yAxisIndex:1,data:expand(windColumns),symbolSize:4.6,z:3,itemStyle:{color:'#2c3e50',opacity:1},silent:true},
  {type:'line',name:'Daily mean',xAxisIndex:1,yAxisIndex:1,data:zipDays(meanDays,windMean),showSymbol:false,symbol:'none',z:4,lineStyle:{color:'#c0392b',width:1.7},itemStyle:{color:'#c0392b'},silent:true},

  {type:'scatter',name:'Latitude',xAxisIndex:2,yAxisIndex:2,data:latPoints.map(p=>[dayMs(p[0]),p[1]]),symbolSize:5.4,itemStyle:{color:'#000',opacity:1},silent:true},

  {type:'scatter',name:'Altitude',xAxisIndex:3,yAxisIndex:3,data:expand(altColumns),symbolSize:4.2,itemStyle:{color:'#7f8c8d',opacity:1},silent:true},
  {type:'line',name:'Altitude daily mean',xAxisIndex:3,yAxisIndex:3,data:zipDays(altMeanDays,altMean),showSymbol:false,symbol:'none',z:4,lineStyle:{color:'#c0392b',width:1.7},silent:true},

  {type:'bar',name:'U (zonal)',xAxisIndex:4,yAxisIndex:4,data:histPts(uCounts),barWidth:17.6,barGap:'-100%',z:2,itemStyle:{color:'rgba(31,119,180,0.65)',borderColor:'rgba(0,0,0,0.65)',borderWidth:1},silent:true},
  {type:'bar',name:'V (meridional)',xAxisIndex:4,yAxisIndex:4,data:histPts(vCounts),barWidth:17.6,barGap:'-100%',z:3,itemStyle:{color:'rgba(255,127,14,0.65)',borderColor:'rgba(0,0,0,0.65)',borderWidth:1},silent:true}
];

function lg(name,left,cy,w,h,textX,extra){
  const lh = 13;
  return Object.assign({data:[name],orient:'vertical',left,top:cy-Math.max(h,lh)/2,itemWidth:w,itemHeight:h,padding:0,z:8,selectedMode:false,
    textStyle:{fontFamily:FONT,fontSize:11.1,color:'#000',lineHeight:lh,padding:[0,0,0,textX-left-w-5]}},extra||{});
}
const legend = [
  lg('Track',102,293,4.6,4.6,124.3,{icon:'circle'}),
  lg('Launch',96.3,308,16,16,124,{icon:'circle'}),
  lg('Last fix',93.8,323,21,21,124,{icon:STAR}),
  lg('\u00B11\u03C3 propagated error',358.7,435,23,9.3,390,{icon:'rect'}),
  lg('Wind speed',368,451,4,4,390,{icon:'circle'}),
  lg('Daily mean',358.7,467.5,23,1.8,390,{icon:'rect'}),
  lg('U (zonal)',1446.5,825,22.5,9.3,1471,{icon:'rect'}),
  lg('V (meridional)',1446.5,840.5,22.5,9.3,1471,{icon:'rect'})
];
const legendBox = (x,y,w,h)=>({type:'rect',z:7,shape:{x,y,width:w,height:h,r:3},style:{fill:'rgba(255,255,255,0.8)',stroke:'#cccccc',lineWidth:1}});
const titleList = [P.map,P.wind,P.lat,P.alt,P.hist].map((g,i)=>({text:titles[i],left:g.left+g.width/2,top:g.top-titleRise[i],textAlign:'center',padding:0,
  textStyle:{fontFamily:FONT,fontSize:16.67,fontWeight:'normal',color:'#000',lineHeight:19}}));
const graphic = {elements:[
  legendBox(89.3,284,79.7,50),
  legendBox(356,426.5,160,49.3),
  legendBox(1441.5,815,120,36),
  ...infoLines.map(l=>({type:'text',z:5,style:{text:l[0],x:l[4],y:l[3],textAlign:'center',textVerticalAlign:'middle',fontFamily:FONT,fontSize:l[1],fill:l[2]}}))
]};

const chart = echarts.init(document.getElementById('c'),null,{renderer:'canvas',width:1590,height:1189});
chart.setOption({animation:false,backgroundColor:'#fff',textStyle:{fontFamily:FONT},title:titleList,grid:grids,xAxis,yAxis,series,legend,graphic,tooltip:{show:false}});
</script></body></html>
